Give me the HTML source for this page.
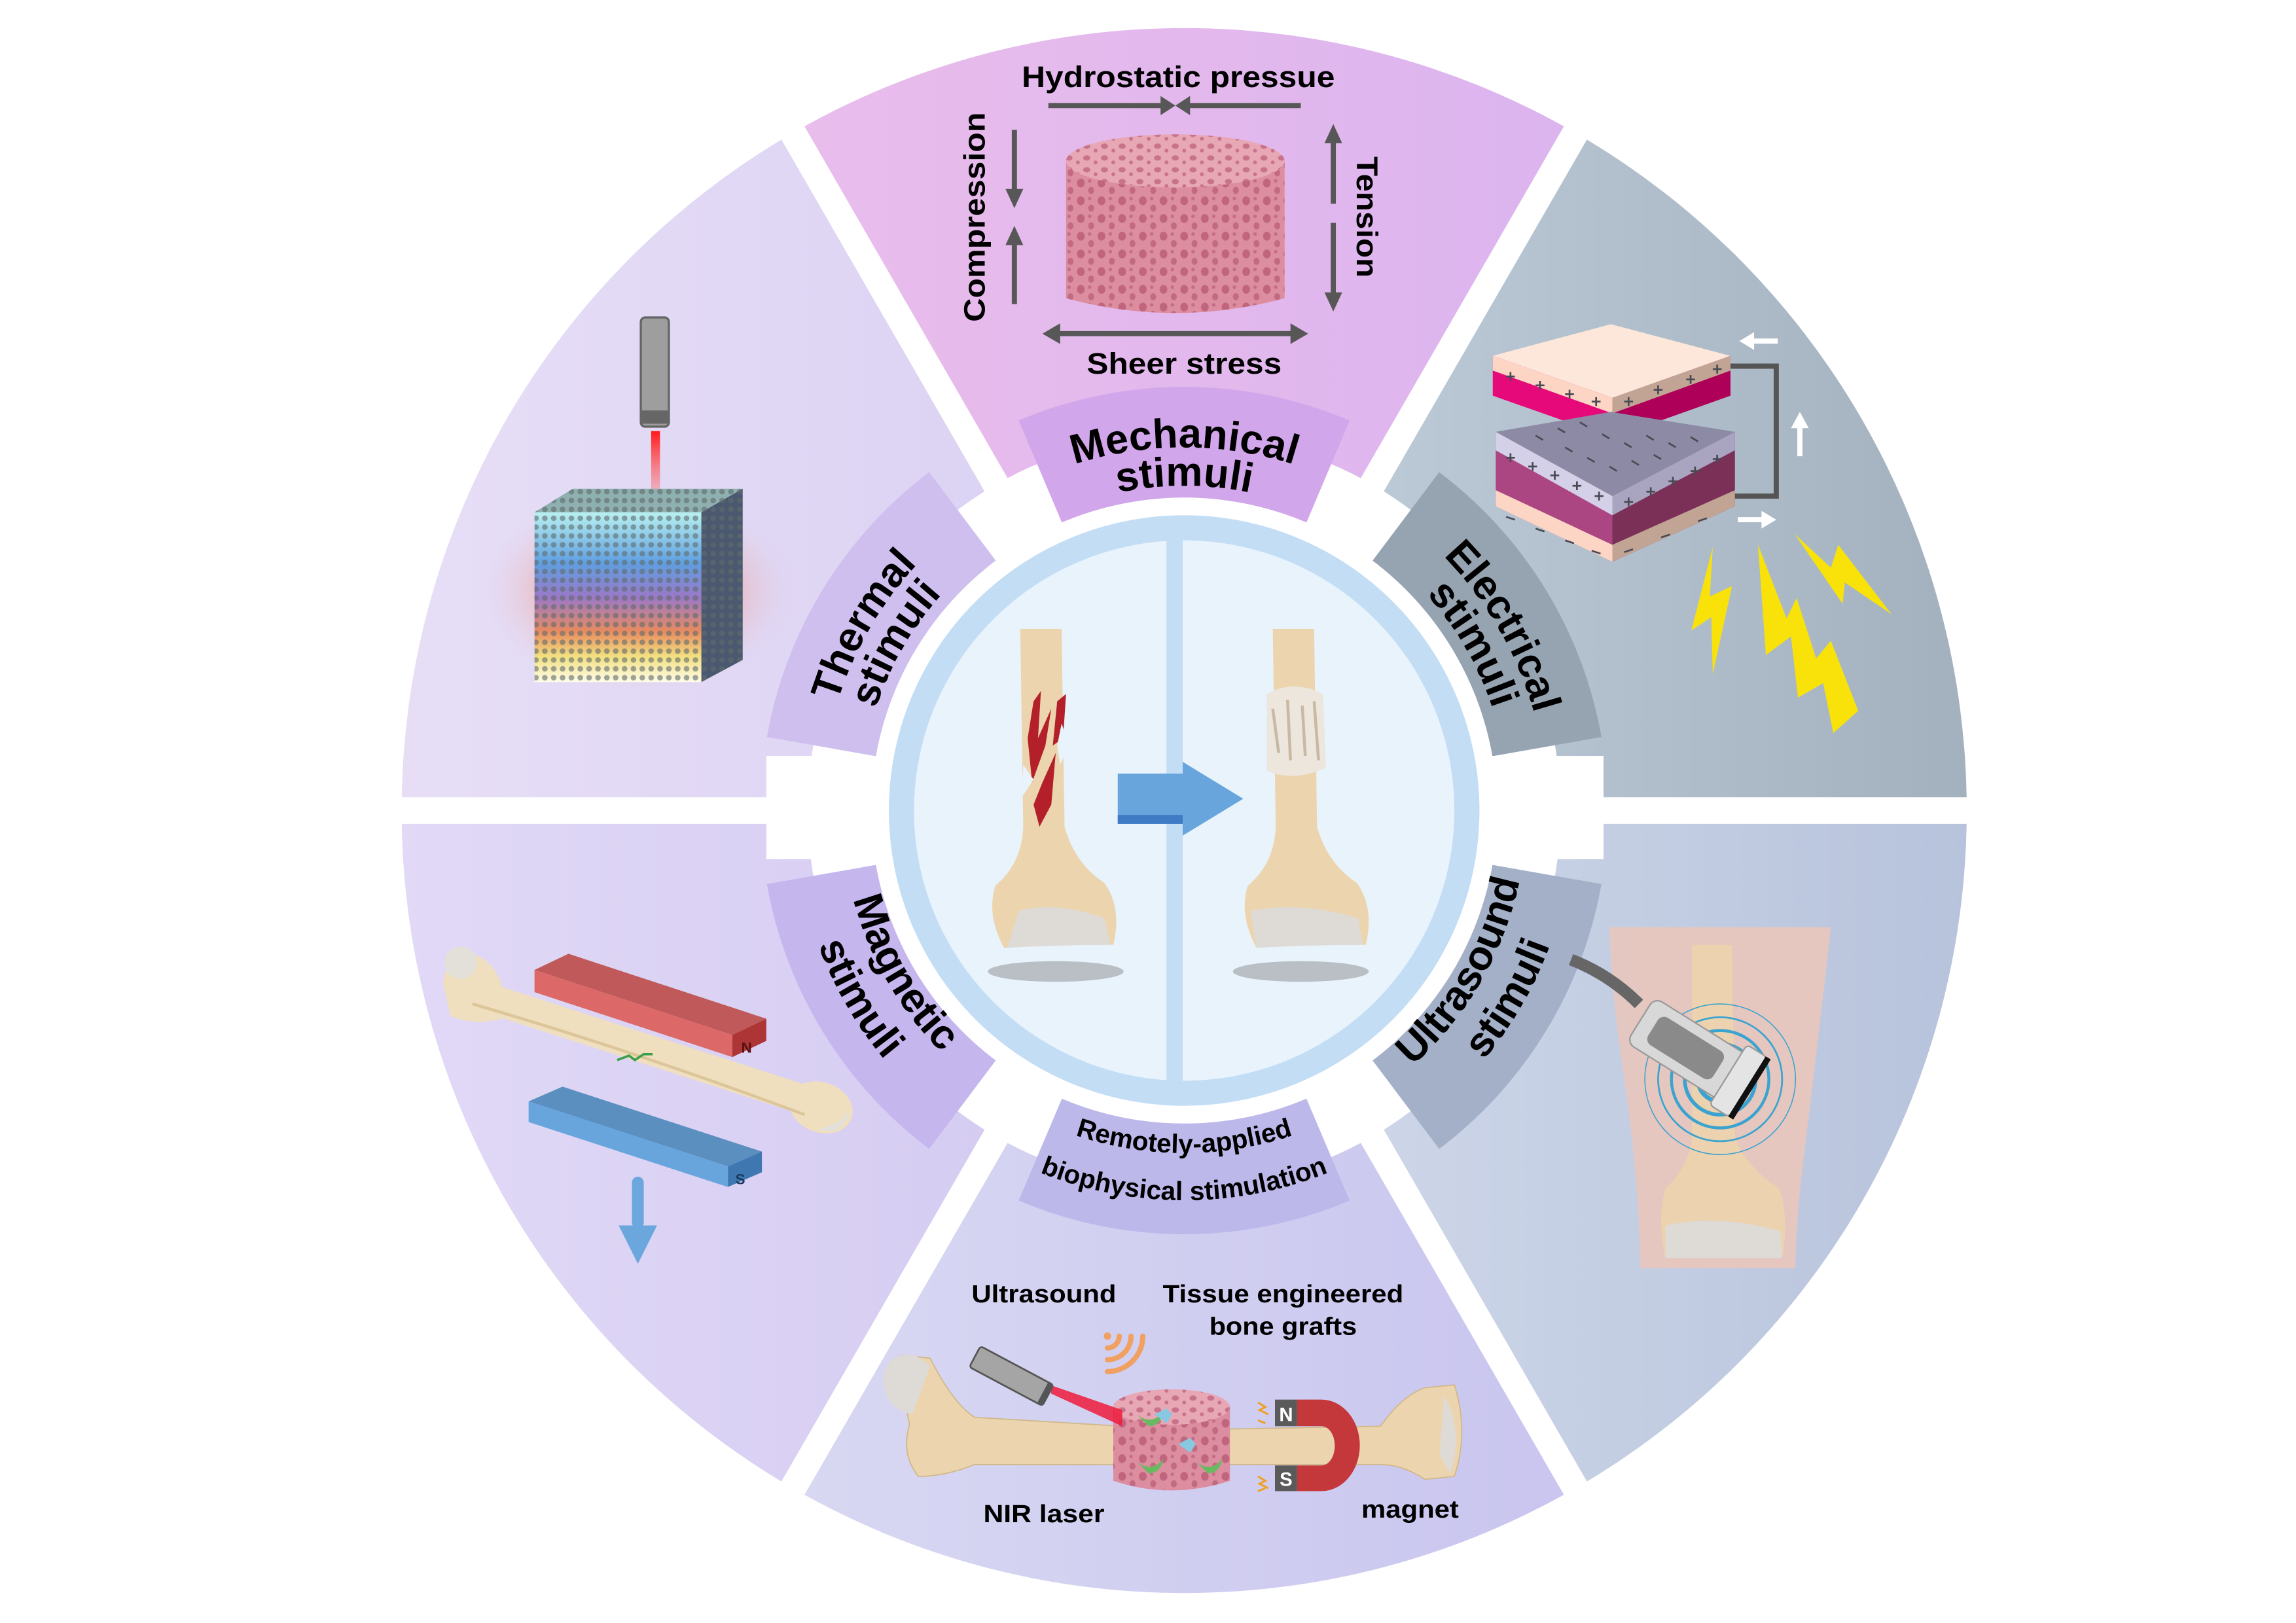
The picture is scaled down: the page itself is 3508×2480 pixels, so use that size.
<!DOCTYPE html>
<html><head><meta charset="utf-8"><style>
html,body{margin:0;padding:0;background:#fff;}
svg{display:block;}
text{font-family:"Liberation Sans",Arial,sans-serif;font-weight:bold;fill:#000;}
</style></head><body>
<svg width="3508" height="2480" viewBox="0 0 1555 1099.3" xmlns="http://www.w3.org/2000/svg">
<defs>
<linearGradient id="gTop" x1="0" x2="1"><stop offset="0" stop-color="#e9bdec"/><stop offset="1" stop-color="#dcb4ee"/></linearGradient>
<linearGradient id="gUR" x1="0" x2="1"><stop offset="0" stop-color="#bccad8"/><stop offset="1" stop-color="#a3b1bf"/></linearGradient>
<linearGradient id="gLR" x1="0" x2="1"><stop offset="0" stop-color="#cdd6e8"/><stop offset="1" stop-color="#b7c3dc"/></linearGradient>
<linearGradient id="gBot" x1="0" x2="1"><stop offset="0" stop-color="#d8d8f2"/><stop offset="1" stop-color="#c9c5ef"/></linearGradient>
<linearGradient id="gLL" x1="0" x2="1"><stop offset="0" stop-color="#e1d9f6"/><stop offset="1" stop-color="#d5ccf2"/></linearGradient>
<linearGradient id="gUL" x1="0" x2="1"><stop offset="0" stop-color="#e7def6"/><stop offset="1" stop-color="#dcd3f4"/></linearGradient>
<linearGradient id="gCube" x1="0" y1="0" x2="0" y2="1"><stop offset="0" stop-color="#b8f0f0"/><stop offset="0.3" stop-color="#5f9fe0"/><stop offset="0.5" stop-color="#9a78c8"/><stop offset="0.7" stop-color="#e88a60"/><stop offset="0.85" stop-color="#f2e080"/><stop offset="1" stop-color="#fffbe8"/></linearGradient>
<radialGradient id="gGlow"><stop offset="0" stop-color="#7a8ef0" stop-opacity=".6"/><stop offset="0.6" stop-color="#f0907a" stop-opacity=".35"/><stop offset="1" stop-color="#e0d8f4" stop-opacity="0"/></radialGradient>
<linearGradient id="gLaser" x1="0" y1="0" x2="0" y2="1"><stop offset="0" stop-color="#ff1a1a"/><stop offset="1" stop-color="#ff6a6a" stop-opacity=".3"/></linearGradient>
<pattern id="pores" width="14" height="12" patternUnits="userSpaceOnUse"><rect width="14" height="12" fill="#dc8da0"/><ellipse cx="4" cy="4" rx="2.6" ry="3" fill="#c0657d"/><ellipse cx="11" cy="9" rx="2" ry="2.4" fill="#c26a80"/><circle cx="10" cy="2.5" r="1.2" fill="#c56d83"/></pattern>
<pattern id="poresTop" width="12" height="8" patternUnits="userSpaceOnUse"><rect width="12" height="8" fill="#e7a7b5"/><ellipse cx="4" cy="3" rx="2.4" ry="1.8" fill="#c9738a"/><circle cx="10" cy="6" r="1.3" fill="#c9738a"/></pattern>
<pattern id="mesh" width="6" height="6" patternUnits="userSpaceOnUse"><circle cx="3" cy="3" r="1.9" fill="#5f6b6a" fill-opacity=".6"/></pattern>
</defs>

<g transform="translate(0,-4)">
<path d="M537,94 A530,530 0 0 1 1067,94 L929.5,332.2 A255,255 0 0 0 674.5,332.2Z" fill="url(#gTop)"/>
<path d="M1067,94 A530,530 0 0 1 1332,553 L1057,553 A255,255 0 0 0 929.5,332.2Z" fill="url(#gUR)"/>
<path d="M1332,553 A530,530 0 0 1 1067,1012 L929.5,773.8 A255,255 0 0 0 1057,553Z" fill="url(#gLR)"/>
<path d="M1067,1012 A530,530 0 0 1 537,1012 L674.5,773.8 A255,255 0 0 0 929.5,773.8Z" fill="url(#gBot)"/>
<path d="M537,1012 A530,530 0 0 1 272,553 L547,553 A255,255 0 0 0 674.5,773.8Z" fill="url(#gLL)"/>
<path d="M272,553 A530,530 0 0 1 537,94 L674.5,332.2 A255,255 0 0 0 547,553Z" fill="url(#gUL)"/>
<path d="M689.9,288.8 A287,287 0 0 1 914.1,288.8 L882.1,364.3 A205,205 0 0 0 721.9,364.3Z" fill="#d2a6ea"/>
<path d="M974.7,323.8 A287,287 0 0 1 1084.6,503.2 L1003.9,517.4 A205,205 0 0 0 925.4,389.3Z" fill="#96a3b1"/>
<path d="M1084.6,602.8 A287,287 0 0 1 974.7,782.2 L925.4,716.7 A205,205 0 0 0 1003.9,588.6Z" fill="#a3b0c8"/>
<path d="M914.1,817.2 A287,287 0 0 1 689.9,817.2 L721.9,741.7 A205,205 0 0 0 882.1,741.7Z" fill="#bdb8ea"/>
<path d="M629.3,782.2 A287,287 0 0 1 519.4,602.8 L600.1,588.6 A205,205 0 0 0 678.6,716.7Z" fill="#c6b6ee"/>
<path d="M519.4,503.2 A287,287 0 0 1 629.3,323.8 L678.6,389.3 A205,205 0 0 0 600.1,517.4Z" fill="#cfbfef"/>
<g stroke="#fff" stroke-width="18">
<line x1="802" y1="553" x2="529.5" y2="81"/><line x1="802" y1="553" x2="1074.5" y2="81"/>
<line x1="802" y1="553" x2="1347" y2="553"/><line x1="802" y1="553" x2="257" y2="553"/>
<line x1="802" y1="553" x2="1074.5" y2="1025"/><line x1="802" y1="553" x2="529.5" y2="1025"/>
</g>
<rect x="519" y="516" width="92" height="70" fill="#fff"/>
<rect x="993" y="516" width="93" height="70" fill="#fff"/>
<circle cx="802" cy="553" r="212" fill="#fff"/>
<circle cx="802" cy="553" r="200" fill="#c3ddf5"/>
<circle cx="802" cy="553" r="183" fill="#e8f3fc"/>
<rect x="790" y="368" width="11" height="370" fill="#c3ddf5"/>

<path id="a1" d="M643.9,364.6 A246,246 0 0 1 960.1,364.6" fill="none"/>
<path id="a2" d="M660.6,384.5 A220,220 0 0 1 943.4,384.5" fill="none"/>
<path id="t1" d="M559.7,595.7 A246,246 0 0 1 717.9,321.8" fill="none"/>
<path id="t2" d="M585.3,591.2 A220,220 0 0 1 726.8,346.3" fill="none"/>
<path id="e1" d="M886.1,321.8 A246,246 0 0 1 1044.3,595.7" fill="none"/>
<path id="e2" d="M877.2,346.3 A220,220 0 0 1 1018.7,591.2" fill="none"/>
<path id="m1" d="M573.5,512.7 A232,232 0 0 0 722.7,771" fill="none"/>
<path id="m2" d="M542,507.2 A264,264 0 0 0 711.7,801.1" fill="none"/>
<path id="u1" d="M881.3,771 A232,232 0 0 0 1030.5,512.7" fill="none"/>
<path id="u2" d="M892.3,801.1 A264,264 0 0 0 1062,507.2" fill="none"/>
<path id="b1" d="M652.9,730.7 A232,232 0 0 0 951.1,730.7" fill="none"/>
<path id="b2" d="M632.3,755.2 A264,264 0 0 0 971.7,755.2" fill="none"/>
<g font-size="28">
<text><textPath href="#a1" startOffset="50%" text-anchor="middle">Mechanical</textPath></text>
<text><textPath href="#a2" startOffset="50%" text-anchor="middle">stimuli</textPath></text>
<text><textPath href="#t1" startOffset="50%" text-anchor="middle">Thermal</textPath></text>
<text><textPath href="#t2" startOffset="50%" text-anchor="middle">stimuli</textPath></text>
<text><textPath href="#e1" startOffset="50%" text-anchor="middle">Electrical</textPath></text>
<text><textPath href="#e2" startOffset="50%" text-anchor="middle">stimuli</textPath></text>
<text><textPath href="#m1" startOffset="50%" text-anchor="middle">Magnetic</textPath></text>
<text><textPath href="#m2" startOffset="50%" text-anchor="middle">stimuli</textPath></text>
<text><textPath href="#u1" startOffset="50%" text-anchor="middle">Ultrasound</textPath></text>
<text><textPath href="#u2" startOffset="50%" text-anchor="middle">stimuli</textPath></text>
</g>
<g font-size="18">
<text><textPath href="#b1" startOffset="50%" text-anchor="middle">Remotely-applied</textPath></text>
<text><textPath href="#b2" startOffset="50%" text-anchor="middle">biophysical stimulation</textPath></text>
</g>
</g>

<!-- hub bones -->
<ellipse cx="715" cy="658" rx="46" ry="7" fill="#b9bfc4"/>
<ellipse cx="881" cy="658" rx="46" ry="7" fill="#b9bfc4"/>
<path d="M691,426 L719,426 L721,560 Q728,585 748,598 Q760,615 754,640 L720,635 Q700,640 680,642 Q668,620 674,600 Q692,585 693,560Z" fill="#ecd5ae"/>
<path d="M690,617 Q715,610 748,622 L752,640 Q715,640 682,642Z" fill="#dedad5"/>
<path d="M700,475 L705,468 L703,500 L712,480 L708,505 L699,530 L696,500Z M706,530 L715,510 L712,545 L704,560 L700,545Z M716,475 L722,470 L720,500 L713,505Z" fill="#b3202a"/>
<path d="M719,490 L724,505 L718,518 L716,505Z M693,518 L700,528 L692,540Z" fill="#e8f3fc"/>
<path d="M862,426 L890,426 L892,560 Q899,585 919,598 Q931,615 925,640 L891,635 Q871,640 851,642 Q839,620 845,600 Q863,585 864,560Z" fill="#ecd5ae"/>
<path d="M858,470 Q876,460 896,470 L898,520 Q876,530 858,522Z" fill="#ede6dc"/>
<path d="M862,480 L866,510 M872,474 L874,515 M882,478 L884,512 M890,475 L893,515" stroke="#c9b9a4" stroke-width="2"/>
<path d="M847,617 Q880,610 920,622 L923,640 Q885,640 851,642Z" fill="#dedad5"/>
<polygon points="757,524 801,524 801,516 842,541 801,566 801,558 757,558" fill="#67a5dc"/>
<polygon points="757,552 801,552 801,558 757,558" fill="#3f7ac4"/>

<!-- mechanical -->
<g fill="#575757" stroke="#575757">
<line x1="710" y1="71.5" x2="787" y2="71.5" stroke-width="3.5"/><polygon points="786,65 796,71.5 786,78" stroke="none"/>
<line x1="805" y1="71.5" x2="881" y2="71.5" stroke-width="3.5"/><polygon points="806,65 796,71.5 806,78" stroke="none"/>
<line x1="687" y1="88" x2="687" y2="130" stroke-width="3.5"/><polygon points="681,128 687,141 693,128" stroke="none"/>
<line x1="687" y1="165" x2="687" y2="206" stroke-width="3.5"/><polygon points="681,166 687,153 693,166" stroke="none"/>
<line x1="903" y1="95" x2="903" y2="138" stroke-width="3.5"/><polygon points="897,97 903,84 909,97" stroke="none"/>
<line x1="903" y1="151" x2="903" y2="200" stroke-width="3.5"/><polygon points="897,198 903,211 909,198" stroke="none"/>
<line x1="716" y1="226" x2="876" y2="226" stroke-width="3.5"/><polygon points="718,219 706,226 718,233" stroke="none"/><polygon points="874,219 886,226 874,233" stroke="none"/>
</g>
<path d="M722,109 L722,202 Q796,222 870,202 L870,109Z" fill="url(#pores)"/>
<ellipse cx="796" cy="109" rx="74" ry="18" fill="url(#poresTop)"/>
<text x="798" y="59" font-size="20" text-anchor="middle" textLength="212" lengthAdjust="spacingAndGlyphs">Hydrostatic pressue</text>
<text x="802" y="253" font-size="20" text-anchor="middle" textLength="132" lengthAdjust="spacingAndGlyphs">Sheer stress</text>
<text transform="translate(667,147) rotate(-90)" font-size="20" text-anchor="middle" textLength="142" lengthAdjust="spacingAndGlyphs">Compression</text>
<text transform="translate(919,147) rotate(90)" font-size="20" text-anchor="middle" textLength="82" lengthAdjust="spacingAndGlyphs">Tension</text>

<!-- thermal -->
<ellipse cx="432" cy="400" rx="110" ry="70" fill="url(#gGlow)"/>
<rect x="434" y="215" width="19" height="74" rx="3" fill="#9e9e9e" stroke="#666" stroke-width="1.5"/>
<rect x="434" y="278" width="19" height="9" fill="#666"/>
<rect x="441" y="292" width="6" height="44" fill="url(#gLaser)"/>
<polygon points="362,347 388,331 503,331 475,347" fill="#8fb0b0"/>
<polygon points="475,347 503,331 503,447 475,462" fill="#4a5870"/>
<rect x="362" y="347" width="113" height="115" fill="url(#gCube)"/>
<rect x="362" y="347" width="113" height="115" fill="url(#mesh)"/>
<polygon points="475,347 503,331 503,447 475,462" fill="url(#mesh)"/>
<polygon points="362,347 388,331 503,331 475,347" fill="url(#mesh)"/>

<!-- electrical -->
<polygon points="1011,241 1091,219.6 1172,241 1092,269.5" fill="#fde7da"/>
<polygon points="1011,241 1092,269.5 1092,296.5 1011,268" fill="#e6097a"/>
<polygon points="1011,241 1092,269.5 1092,280 1011,251" fill="#fcd5c4"/>
<polygon points="1092,269.5 1172,241 1172,268 1092,296.5" fill="#ae0058"/>
<polygon points="1092,269.5 1172,241 1172,251 1092,280" fill="#c2a494"/>
<polygon points="1013,292.5 1091,279 1175,292.5 1092,336" fill="#8d8aa5"/>
<polygon points="1013,292.5 1092,336 1092,380.5 1013,343" fill="#ab4683"/>
<polygon points="1013,292.5 1092,336 1092,349 1013,305" fill="#d4d0e8"/>
<polygon points="1013,332 1092,369 1092,380.5 1013,343" fill="#fcd5c4"/>
<polygon points="1092,336 1175,292.5 1175,343 1092,380.5" fill="#7b3058"/>
<polygon points="1092,336 1175,292.5 1175,305 1092,349" fill="#a9a4c0"/>
<polygon points="1092,369 1175,332 1175,343 1092,380.5" fill="#c2a494"/>
<g stroke="#4a4a55" stroke-width="1.2">
<path d="M1020,255 h6 M1023,252 v6 M1040,261 h6 M1043,258 v6 M1060,267 h6 M1063,264 v6 M1078,272 h6 M1081,269 v6 M1100,272 h6 M1103,269 v6 M1120,264 h6 M1123,261 v6 M1142,257 h6 M1145,254 v6 M1160,250 h6 M1163,247 v6"/>
<path d="M1020,310 h6 M1023,307 v6 M1035,316 h6 M1038,313 v6 M1050,322 h6 M1053,319 v6 M1065,329 h6 M1068,326 v6 M1080,336 h6 M1083,333 v6 M1100,340 h6 M1103,337 v6 M1115,333 h6 M1118,330 v6 M1130,326 h6 M1133,323 v6 M1145,319 h6 M1148,316 v6 M1160,311 h6 M1163,308 v6"/>
<path d="M1040,295 l5,3 M1055,290 l5,3 M1070,286 l5,3 M1085,294 l5,3 M1100,300 l5,3 M1115,295 l5,3 M1130,300 l5,3 M1145,296 l5,3 M1060,303 l5,3 M1075,310 l5,3 M1090,316 l5,3 M1105,312 l5,3 M1120,308 l5,3"/>
<path d="M1020,350 l6,2 M1040,358 l6,2 M1060,366 l6,2 M1078,373 l6,2 M1100,374 l6,-2 M1125,364 l6,-2 M1150,353 l6,-2"/>
</g>
<polyline points="1172,248 1203,248 1203,336 1175,336" fill="none" stroke="#555" stroke-width="3.5"/>
<g fill="#fff" stroke="#fff">
<line x1="1186" y1="231" x2="1204" y2="231" stroke-width="3.5"/><polygon points="1188,225 1178,231 1188,237" stroke="none"/>
<line x1="1219" y1="288" x2="1219" y2="309" stroke-width="3.5"/><polygon points="1213,290 1219,279 1225,290" stroke="none"/>
<line x1="1177" y1="352" x2="1195" y2="352" stroke-width="3.5"/><polygon points="1193,346 1203,352 1193,358" stroke="none"/>
</g>
<g fill="#f9e20a">
<polygon points="1160,370.6 1145.5,427 1159,418 1160,456.6 1173,397 1158,404"/>
<polygon points="1190.6,368.9 1196,443.7 1213,431 1217.7,472.5 1234.8,462.7 1241.6,496.5 1258.5,481.5 1240,434 1230,446 1216.8,405 1210,419"/>
<polygon points="1215.5,361.8 1248,409 1249.4,394.5 1281,416 1245,369 1240,384.5"/>
</g>

<!-- ultrasound -->
<path d="M1090,628 L1240,628 Q1232,700 1222,780 Q1216,830 1216,859 L1111,859 Q1110,800 1100,730 Q1092,680 1090,628Z" fill="#e9c6bd" opacity=".9"/>
<path d="M1146,640 L1173,640 L1175,770 Q1182,790 1205,805 Q1212,825 1207,852 L1172,848 Q1150,852 1128,852 Q1122,825 1128,805 Q1144,790 1146,770Z" fill="#ecd3ad" opacity=".95"/>
<path d="M1128,830 Q1165,822 1206,834 L1207,852 Q1165,852 1128,852Z" fill="#dedad5"/>
<g fill="none" stroke="#3aa3d0">
<circle cx="1165" cy="731" r="15" stroke-width="3"/><circle cx="1165" cy="731" r="24" stroke-width="2.5"/><circle cx="1165" cy="731" r="33" stroke-width="2"/><circle cx="1165" cy="731" r="42" stroke-width="1.2"/><circle cx="1165" cy="731" r="51" stroke-width=".7"/>
</g>
<path d="M1064,650 Q1090,660 1110,680" stroke="#666" stroke-width="8" fill="none"/>
<g transform="translate(1145,712) rotate(32)">
<rect x="-40" y="-18" width="78" height="36" rx="6" fill="#d8d8d8" stroke="#999"/>
<rect x="-30" y="-11" width="52" height="22" rx="5" fill="#8a8a8a"/>
<rect x="30" y="-24" width="16" height="48" rx="3" fill="#e4e4e4" stroke="#999"/>
<rect x="45" y="-24" width="4" height="48" fill="#111"/>
</g>

<!-- magnetic -->
<polygon points="362,657 385,646 519,690 496,701" fill="#c05a5a"/>
<polygon points="362,657 496,701 496,716 362,672" fill="#dc6868"/>
<polygon points="496,701 519,690 519,705 496,716" fill="#ad3535"/>
<text x="502" y="713" font-size="10" style="fill:#5a1010">N</text>
<line x1="318" y1="672" x2="545" y2="745" stroke="#efdfbf" stroke-width="20" stroke-linecap="round"/>
<path d="M300,665 Q305,640 325,648 Q345,660 340,690 Q320,695 305,688Z" fill="#efdfbf"/>
<ellipse cx="556" cy="750" rx="22" ry="17" transform="rotate(20 556 750)" fill="#efdfbf"/>
<path d="M320,680 Q430,712 545,755" stroke="#dcc699" stroke-width="2" fill="none"/>
<circle cx="312" cy="652" r="11" fill="#e3e0da"/>
<path d="M555,765 Q570,770 576,752 L568,760Z" fill="#e3e0da"/>
<path d="M418,718 l8,-3 l4,3 l6,-4 l6,0" stroke="#3aa04a" stroke-width="1.6" fill="none"/>
<polygon points="358,746 381,736 516,780 493,790" fill="#5b8fc0"/>
<polygon points="358,746 493,790 493,804 358,760" fill="#67a5dc"/>
<polygon points="493,790 516,780 516,794 493,804" fill="#3f78b0"/>
<text x="498" y="802" font-size="10" style="fill:#1a3a60">S</text>
<rect x="428" y="797" width="8" height="35" rx="4" fill="#6ba6dc"/>
<polygon points="419,830 445,830 432,856" fill="#6ba6dc"/>

<!-- bottom -->
<path d="M610,935 Q600,920 612,918 L630,920 Q645,950 660,960 L760,966 L760,992 L660,992 Q640,1000 622,1000 Q610,985 616,965Z" fill="#ecd5ae" stroke="#d0b88a" stroke-width=".8"/>
<path d="M598,935 Q600,915 620,918 L630,925 L618,958 Q600,955 598,935Z" fill="#dedad5"/>
<path d="M830,968 L935,966 Q950,945 965,940 L985,938 Q995,970 985,1000 L965,1002 Q950,992 935,992 L830,992Z" fill="#ecd5ae" stroke="#d0b88a" stroke-width=".8"/>
<path d="M978,945 Q992,970 982,998 L975,985Z" fill="#dedad5"/>
<path d="M754,953 L754,1003 Q793,1016 833,1003 L833,953Z" fill="url(#pores)"/>
<ellipse cx="793.5" cy="953" rx="39.5" ry="12" fill="url(#poresTop)"/>
<g fill="#68ba60"><path d="M770,958 q10,8 18,-2 q-2,10 -10,10z"/><path d="M770,990 q10,8 18,-2 q-2,10 -10,10z"/><path d="M810,990 q10,8 18,-2 q-2,10 -10,10z"/></g>
<g fill="#88c8e0"><path d="M782,958 l8,-4 l4,4 l-4,6z"/><path d="M798,978 l8,-4 l4,4 l-4,6z"/></g>
<path d="M878.5,948 L895,948 A26,31 0 0 1 895,1010 L878.5,1010 L878.5,992.6 L895,992.6 A9,13.3 0 0 0 895,966 L878.5,966Z" fill="#c4373a"/>
<rect x="863.5" y="948" width="15" height="18" fill="#5a5a5a"/>
<rect x="863.5" y="992.6" width="15" height="17.4" fill="#5a5a5a"/>
<text x="871" y="962.5" font-size="13" text-anchor="middle" style="fill:#fff">N</text>
<text x="871" y="1006.5" font-size="13" text-anchor="middle" style="fill:#fff">S</text>
<path d="M852,950 l5,3 l-4,2 l6,3 M852,1000 l5,3 l-4,2 l6,3 M852,962 l5,2 M852,1010 l5,-2" stroke="#f0a020" stroke-width="1.3" fill="none"/>
<polygon points="711,938 712,944 760,966 760,955" fill="#ee1c3c" opacity=".85"/>
<g transform="translate(685,932) rotate(28)"><rect x="-28" y="-8" width="56" height="16" rx="2" fill="#a5a5a5" stroke="#555" stroke-width="1.2"/><rect x="24" y="-8" width="4" height="16" fill="#555"/></g>
<g fill="none" stroke="#f0a060" stroke-width="3.5" stroke-linecap="round">
<circle cx="750" cy="905" r="2.5" fill="#f0a060" stroke="none"/>
<path d="M758,905 A8,8 0 0 1 750,913"/>
<path d="M766,905 A16,16 0 0 1 750,921"/>
<path d="M774,905 A24,24 0 0 1 750,929"/>
</g>
<g font-size="17">
<text x="707" y="882" text-anchor="middle" textLength="98" lengthAdjust="spacingAndGlyphs">Ultrasound</text>
<text x="869" y="882" text-anchor="middle" textLength="163" lengthAdjust="spacingAndGlyphs">Tissue engineered</text>
<text x="869" y="904" text-anchor="middle" textLength="100" lengthAdjust="spacingAndGlyphs">bone grafts</text>
<text x="707" y="1031" text-anchor="middle" textLength="82" lengthAdjust="spacingAndGlyphs">NIR laser</text>
<text x="955" y="1028" text-anchor="middle" textLength="66" lengthAdjust="spacingAndGlyphs">magnet</text>
</g>
</svg>
</body></html>
